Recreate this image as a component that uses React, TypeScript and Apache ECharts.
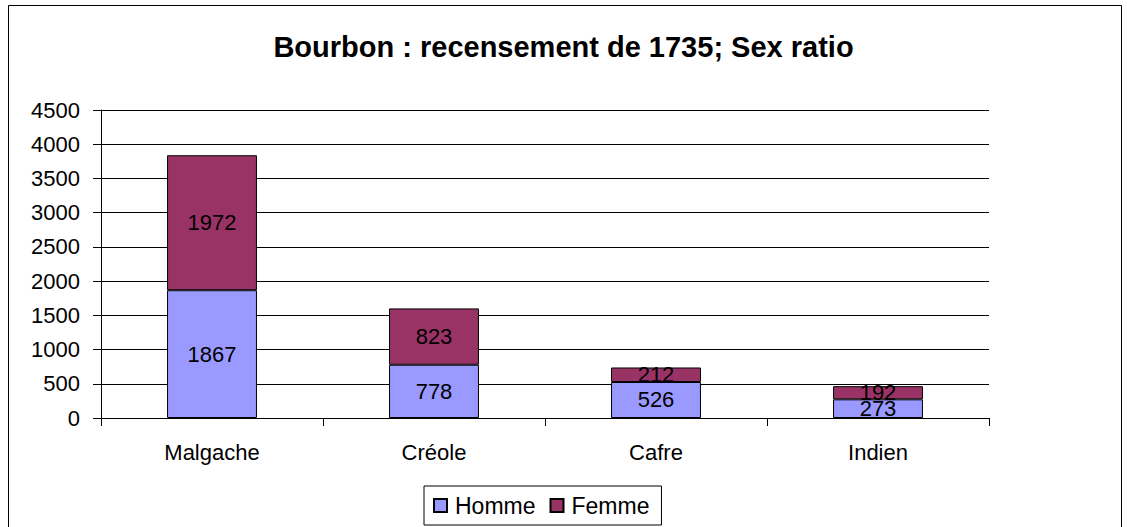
import React, { useEffect, useRef } from "react";
import * as echarts from "echarts";

const categories = ["Malgache", "Créole", "Cafre", "Indien"];
const homme = [1867, 778, 526, 273];
const femme = [1972, 823, 212, 192];

export default function App() {
  const ref = useRef<HTMLDivElement>(null);
  useEffect(() => {
    if (!ref.current) return;
    const chart = echarts.init(ref.current, null, { renderer: "svg" });
    const font = "Liberation Sans, Arial, sans-serif";
    chart.setOption({
      animation: false,
      backgroundColor: "#ffffff",
      textStyle: { fontFamily: font },
      title: {
        text: "Bourbon : recensement de 1735; Sex ratio",
        left: "center",
        top: 27,
        textStyle: { fontFamily: font, fontSize: 29, fontWeight: "bold", color: "#000" },
      },
      graphic: [
        {
          type: "rect",
          shape: { x: 8.5, y: 5.5, width: 1113, height: 540 },
          style: { fill: "none", stroke: "#000", lineWidth: 1 },
          silent: true,
        },
      ],
      legend: {
        left: 424,
        top: 486,
        padding: [8, 12, 8, 9],
        borderColor: "#000",
        borderWidth: 1,
        icon: "rect",
        itemWidth: 13,
        itemHeight: 13,
        itemGap: 14,
        textStyle: { fontFamily: font, fontSize: 23, color: "#000", padding: [0, 0, 0, 3] },
        data: ["Homme", "Femme"],
      },
      grid: { left: 101, right: 138, top: 110, bottom: 109, containLabel: false },
      xAxis: {
        type: "category",
        data: categories,
        boundaryGap: true,
        axisLine: { show: true, lineStyle: { color: "#000", width: 1 } },
        axisTick: { show: true, alignWithLabel: false, length: 8, lineStyle: { color: "#000" } },
        axisLabel: { fontFamily: font, fontSize: 22, color: "#000", margin: 23 },
      },
      yAxis: {
        type: "value",
        min: 0,
        max: 4500,
        interval: 500,
        axisLine: { show: true, lineStyle: { color: "#000", width: 1 } },
        axisTick: { show: true, length: 8, lineStyle: { color: "#000" } },
        axisLabel: {
          fontFamily: font,
          fontSize: 22,
          color: "#000",
          margin: 21,
          formatter: (v: number) => String(v),
        },
        splitLine: { show: true, lineStyle: { color: "#000", width: 1 } },
      },
      series: [
        {
          name: "Homme",
          type: "bar",
          stack: "total",
          data: homme,
          barWidth: "40.5%",
          itemStyle: { color: "#9999FF", borderColor: "#000", borderWidth: 1 },
          label: { show: true, position: "inside", fontFamily: font, fontSize: 22, color: "#000" },
        },
        {
          name: "Femme",
          type: "bar",
          stack: "total",
          data: femme,
          barWidth: "40.5%",
          itemStyle: { color: "#993366", borderColor: "#000", borderWidth: 1 },
          label: { show: true, position: "inside", fontFamily: font, fontSize: 22, color: "#000" },
        },
      ],
    });
    return () => chart.dispose();
  }, []);
  return (
    <div
      ref={ref}
      style={{ position: "fixed", left: 0, top: 0, width: 1127, height: 527 }}
    />
  );
}
